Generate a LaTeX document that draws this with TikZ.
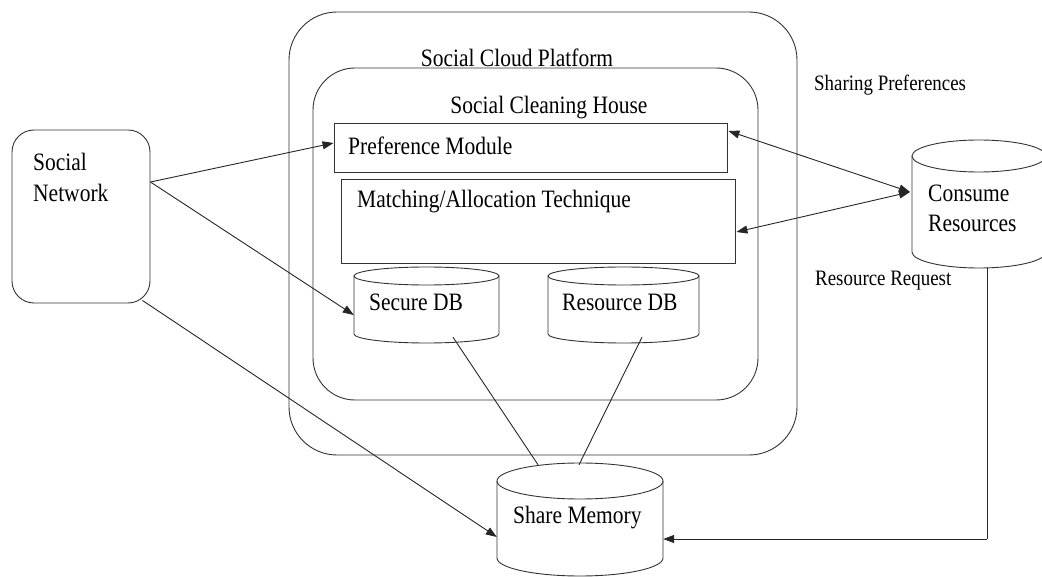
\documentclass[tikz,border=0pt]{standalone}
\usepackage{fontspec}
\setmainfont{Liberation Serif}[FakeStretch=0.86]
\usetikzlibrary{arrows.meta,fit}

\tikzset{
  line/.style={draw=black!80, line width=0.9pt},
  box/.style={line, inner sep=0pt, fill=none},
  conn/.style={draw=black!85, line width=0.9pt},
  tip/.style={conn, -{Triangle[length=11pt,width=8pt]}},
  bitip/.style={conn, {Triangle[length=11pt,width=8pt]}-{Triangle[length=11pt,width=8pt]}},
  lbl/.style={inner sep=0pt, font=\fontsize{25}{30}\selectfont},
  small/.style={inner sep=0pt, font=\fontsize{22}{26}\selectfont},
}

% database drum: name, left, top, right, bottom, cap radius
\newcommand\dbdrum[6]{%
  \pgfmathsetmacro\drumcx{(#2+#4)/2}%
  \pgfmathsetmacro\drumrx{(#4-#2)/2}%
  \draw[line, fill=white] (#2,#3+#6) -- (#2,#5-#6)
    arc[start angle=180, end angle=0, x radius=\drumrx, y radius=#6] -- (#4,#3+#6);
  \draw[line] (\drumcx,#3+#6) ellipse[x radius=\drumrx, y radius=#6];
  \coordinate (#1-nw) at (#2,#3);
  \coordinate (#1-se) at (#4,#5);
  \node[fit=(#1-nw)(#1-se), inner sep=0pt] (#1) {};
}

\begin{document}
\begin{tikzpicture}[x=1pt, y=-1pt]
\useasboundingbox (0,0) rectangle (1042,577);
\clip (0,0) rectangle (1042,577);

% platform containers
\node[box, rounded corners=48pt, minimum width=508pt, minimum height=443pt] (cloud) at (543,233.5) {};
\node[box, rounded corners=42pt, minimum width=445pt, minimum height=332pt] (house) at (535.5,234) {};
\node[lbl] (cloudlbl) at (517,58) {Social Cloud Platform};
\node[lbl] (houselbl) at (549,108) {Social Cleaning House};

% modules
\node[box, minimum width=393pt, minimum height=49pt] (pref) at (530.5,147.5) {};
\node[lbl, anchor=west] (preflbl) at (348,146) {Preference Module};
\node[box, minimum width=394pt, minimum height=84pt] (match) at (538,221) {};
\node[lbl, anchor=west] (matchlbl) at (357,202) {Matching/Allocation Technique};

% databases
\dbdrum{secure}{354}{267}{499}{343}{9}
\node[lbl, anchor=west] (securelbl) at (369,302) {Secure DB};
\dbdrum{resdb}{548}{267}{699}{343}{9}
\node[lbl, anchor=west] (resdblbl) at (562,302) {Resource DB};
\dbdrum{consume}{912}{140}{1046}{268}{16}
\node[lbl, anchor=west] (consume1) at (928,193) {Consume};
\node[lbl, anchor=west] (consume2) at (928,223) {Resources};
\dbdrum{share}{497}{463}{663}{576}{18}
\node[lbl, anchor=west] (sharelbl) at (513,518) {Share Memory};

% social network
\node[box, rounded corners=22pt, minimum width=138pt, minimum height=173pt] (social) at (81,216.5) {};
\node[lbl, anchor=west] (social1) at (33,162) {Social};
\node[lbl, anchor=west] (social2) at (33,193) {Network};

% side labels
\node[small, anchor=west] (sharing) at (814,85) {Sharing Preferences};
\node[small, anchor=west] (request) at (815,281) {Resource Request};

% connectors
\coordinate (snout) at ([yshift=34.5pt]social.east);
\draw[tip] (snout) -- ([yshift=4.5pt]pref.west);
\draw[tip] (snout) -- ([yshift=-10pt]secure.west);
\draw[tip] ([xshift=-8pt,yshift=3pt]social.south east) -- ([yshift=-17.5pt]share.west);
\coordinate (cin) at (910,192);
\draw[bitip] ([xshift=1pt,yshift=16.5pt]pref.east) -- (cin);
\draw[bitip] ([xshift=1pt,yshift=-11pt]match.east) -- (cin);
\draw[conn] ([xshift=26.5pt,yshift=6pt]secure.south) -- ([xshift=-42pt,yshift=-2pt]share.north);
\draw[conn] ([xshift=18.5pt,yshift=6pt]resdb.south) -- ([xshift=-1pt,yshift=-2pt]share.north);
\coordinate (turn) at (987,539);
\draw[conn] ([xshift=8pt]consume.south) -- (turn);
\draw[tip] (turn) -- ([yshift=-19.5pt]share.east);
\end{tikzpicture}
\end{document}
